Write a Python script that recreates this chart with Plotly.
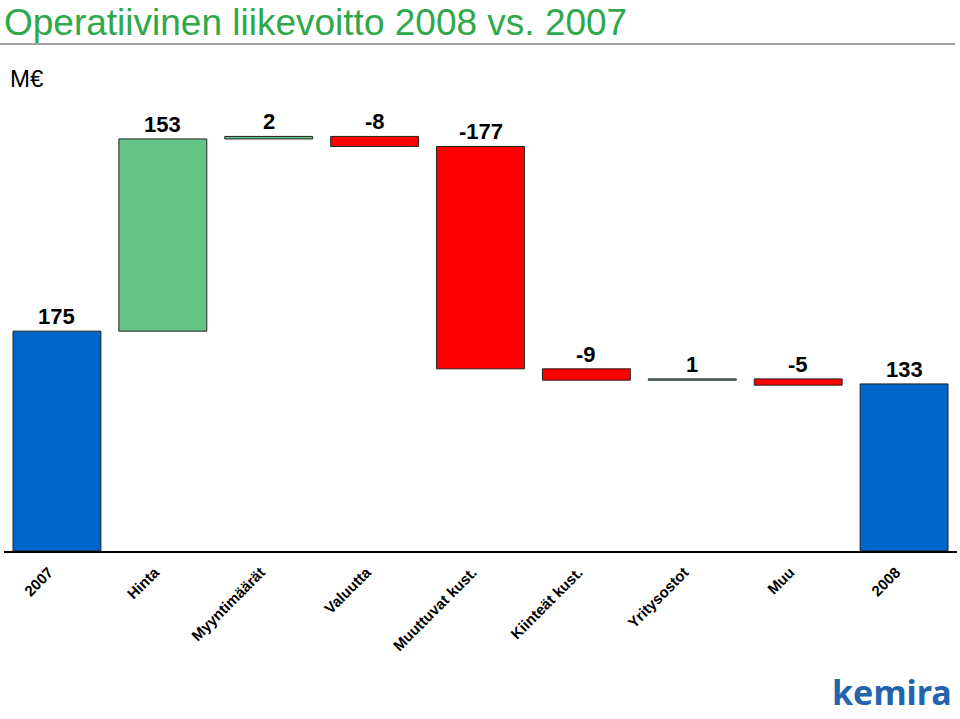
import plotly.graph_objects as go

categories = ["2007", "Hinta", "Myyntimäärät", "Valuutta", "Muuttuvat kust.",
              "Kiinteät kust.", "Yritysostot", "Muu", "2008"]
values = [175, 153, 2, -8, -177, -9, 1, -5, 133]
kinds = ["total", "delta", "delta", "delta", "delta", "delta", "delta", "delta", "total"]
labels = ["175", "153", "2", "-8", "-177", "-9", "1", "-5", "133"]

BLUE = "#0066CC"
GREEN = "#66C285"
RED = "#FF0000"

bases, heights, colors, tops = [], [], [], []
running = 0
for v, k in zip(values, kinds):
    if k == "total":
        bases.append(0)
        heights.append(v)
        colors.append(BLUE)
        running = v
        tops.append(v)
    else:
        start = running
        end = running + v
        bases.append(min(start, end))
        heights.append(abs(v))
        colors.append(GREEN if v > 0 else RED)
        tops.append(max(start, end))
        running = end

fig = go.Figure()
fig.add_trace(go.Bar(
    x=categories, y=heights, base=bases,
    marker=dict(color=colors, line=dict(color="#222222", width=1)),
    width=0.83, hoverinfo="skip", showlegend=False,
))

annotations = []
for i, (t, lab) in enumerate(zip(tops, labels)):
    annotations.append(dict(
        x=i, y=t, xref="x", yref="y", text="<b>" + lab + "</b>", showarrow=False,
        yanchor="bottom", yshift=0,
        font=dict(family="Liberation Sans, Arial", size=22, color="black"),
    ))

annotations.append(dict(
    x=-0.002, y=(551 - 22) / 451, xref="paper", yref="paper",
    text="Operatiivinen liikevoitto 2008 vs. 2007", showarrow=False,
    xanchor="left", yanchor="middle",
    font=dict(family="Liberation Sans, Arial", size=37, color="#2EA84A"),
))
annotations.append(dict(
    x=0.004, y=1.0466, xref="paper", yref="paper", text="M€", showarrow=False,
    xanchor="left", yanchor="middle",
    font=dict(family="Liberation Sans, Arial", size=24, color="black"),
))
annotations.append(dict(
    x=0.997, y=(551 - 717) / 451, xref="paper", yref="paper", text="<b>kemira</b>",
    showarrow=False, xanchor="right", yanchor="bottom",
    font=dict(family="Noto Sans, Arial", size=34, color="#2463AE"),
))

fig.update_layout(
    width=960, height=719,
    margin=dict(l=4, r=3, t=100, b=168),
    paper_bgcolor="white", plot_bgcolor="white",
    annotations=annotations,
    shapes=[dict(type="line", xref="paper", yref="paper",
                 x0=-0.0042, x1=0.998, y0=1.124, y1=1.124,
                 line=dict(color="#A0A0A0", width=2))],
    xaxis=dict(type="category", range=[-0.5, 8.5], showline=True,
               linecolor="black", linewidth=1.5, ticks="", tickangle=-45,
               showgrid=False, ticklabelshift=-8, ticklabelstandoff=5,
               tickfont=dict(family="Liberation Sans, Arial", size=15, color="black", weight="bold")),
    yaxis=dict(range=[0, 359], visible=False, showgrid=False),
    bargap=0.17,
)

fig.write_html("out.html")
